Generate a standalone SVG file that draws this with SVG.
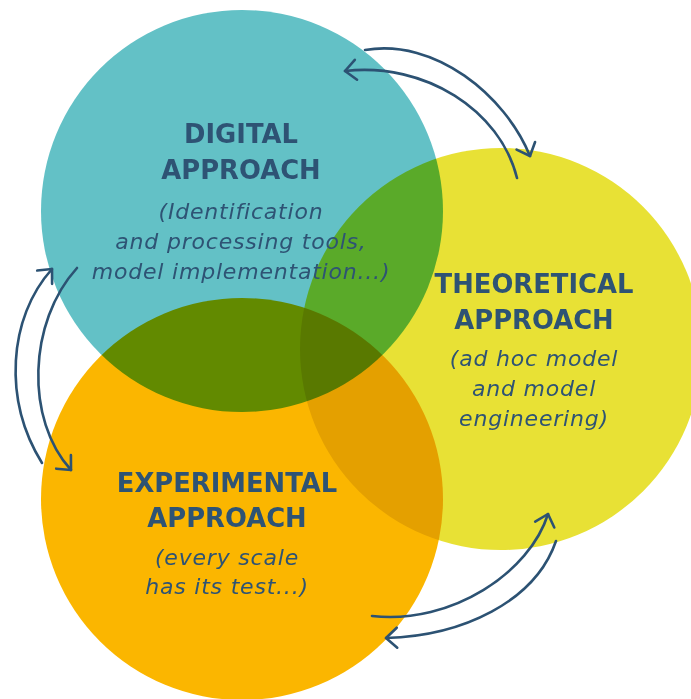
<svg xmlns="http://www.w3.org/2000/svg" width="691" height="699" viewBox="0 0 691 699">
  <style>
    .circ { mix-blend-mode: multiply; }
    .title { font-family: "DejaVu Sans", "Open Sans", sans-serif; font-weight: 700; font-size: 25.8px; fill: #2E5374; text-anchor: middle; }
    .sub { font-family: "DejaVu Sans", "Open Sans", sans-serif; font-style: italic; font-size: 22px; letter-spacing: 0.8px; fill: #2E5374; text-anchor: middle; }
    .arrow { fill: none; stroke: #2C5273; stroke-width: 2.6; stroke-linecap: round; marker-end: url(#chev); }
  </style>
  <defs>
    <marker id="chev" markerUnits="userSpaceOnUse" markerWidth="30" markerHeight="30" viewBox="-15 -15 30 30" refX="0" refY="0" orient="auto">
      <path d="M-11,-10 L0,0 L-11,10" fill="none" stroke="#2C5273" stroke-width="2.6" stroke-linecap="round" stroke-linejoin="round"/>
    </marker>
  </defs>
  <rect width="691" height="699" fill="#ffffff"/>
  <g style="isolation:isolate">
    <g id="digital">
      <circle class="circ" cx="242" cy="211" r="201" fill="#63C1C6"/>
    </g>
    <g id="theoretical">
      <circle class="circ" cx="501" cy="349" r="201" fill="#E8E135"/>
    </g>
    <g id="experimental">
      <circle class="circ" cx="242" cy="499" r="201" fill="#FBB600"/>
    </g>
  </g>
  <g id="labels">
    <g id="digital-label">
      <text class="title" x="241" y="143">DIGITAL</text>
      <text class="title" x="241" y="179">APPROACH</text>
      <text class="sub" x="241" y="219">(Identification</text>
      <text class="sub" x="241" y="249">and processing tools,</text>
      <text class="sub" x="241" y="279">model implementation...)</text>
    </g>
    <g id="theoretical-label">
      <text class="title" x="534" y="293">THEORETICAL</text>
      <text class="title" x="534" y="329">APPROACH</text>
      <text class="sub" x="534" y="366">(ad hoc model</text>
      <text class="sub" x="534" y="396">and model</text>
      <text class="sub" x="534" y="426">engineering)</text>
    </g>
    <g id="experimental-label">
      <text class="title" x="227" y="492">EXPERIMENTAL</text>
      <text class="title" x="227" y="527">APPROACH</text>
      <text class="sub" x="227" y="565">(every scale</text>
      <text class="sub" x="227" y="594">has its test...)</text>
    </g>
  </g>
  <g id="connectors">
    <path class="arrow" d="M365,50 C435,38 505,95 530,156"/>
    <path class="arrow" d="M517,178 C500,110 425,62 345,71"/>
    <path class="arrow" d="M42,463 C3,400 8,318 52,269"/>
    <path class="arrow" d="M77,268 C28,322 25,420 71,470"/>
    <path class="arrow" d="M372,616 C452,625 530,572 548,514"/>
    <path class="arrow" d="M556,541 C535,602 462,636 386,638"/>
  </g>
</svg>
